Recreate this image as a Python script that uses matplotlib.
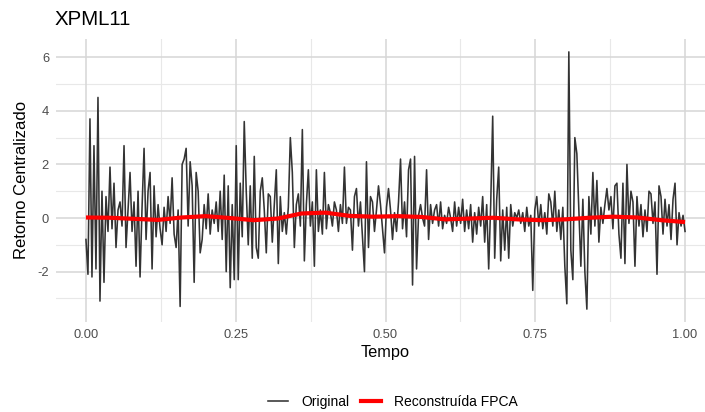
import numpy as np
import matplotlib
matplotlib.use("Agg")
import matplotlib.pyplot as plt
from matplotlib.lines import Line2D

plt.rcParams['font.family'] = ['Liberation Sans', 'DejaVu Sans']

# ---- data ----
title = "XPML11"
x_label = "Tempo"
y_label = "Retorno Centralizado"
series_names = ["Original", "Reconstruída FPCA"]

original = [
    -0.8, -2.1, 3.7, -2.2, 2.7, -1.9, 4.5, -3.1, 1.0, -2.4,
    0.8, -0.5, 1.9, -0.4, 1.3, -1.1, 0.3, 0.6, -0.3, 2.7,
    -1.1, 0.3, 1.7, -0.5, 0.6, -1.8, 1.0, -2.2, 0.4, 2.6,
    -0.8, 1.0, 1.7, -1.9, 1.2, -0.7, 0.5, -0.4, -1.0, 0.4,
    -0.5, 0.8, -0.2, 1.5, -0.6, -1.1, 0.3, -3.3, 2.0, 2.2,
    2.6, -0.3, 2.1, 1.2, -2.4, 1.7, 1.0, -1.3, -0.8, 0.5,
    -0.4, 0.9, -0.6, 0.3, -0.2, 0.6, -0.5, 1.0, -0.8, 1.6,
    -2.0, 1.2, -2.6, 0.5, -2.3, 2.7, -2.3, 1.3, -0.7, 3.6,
    1.0, -1.0, 1.2, -1.5, 2.3, -1.1, -1.5, 1.0, 1.5, 0.3,
    -1.3, 0.9, 0.8, -0.9, 0.5, 1.8, -1.7, 0.8, -0.5, 0.2,
    -0.6, 0.4, 3.0, 1.7, -1.1, 0.5, 0.9, -0.3, 3.3, -1.6,
    0.5, 1.8, -0.3, 0.6, -1.8, 1.8, -0.5, 0.3, -0.6, 1.7,
    -0.4, 0.5, 0.2, -0.3, 0.6, 0.3, -0.5, 0.5, -0.2, 1.9,
    -0.2, 0.4, 0.3, -1.2, 0.8, 1.1, -0.3, 0.6, -0.7, -2.0,
    2.1, -1.1, 0.8, 0.6, -0.5, 0.3, 1.2, 0.5, -0.4, -1.3,
    0.4, 1.1, 0.3, -0.8, 0.2, -0.5, 0.6, 2.2, -0.4, 0.6,
    -0.7, 1.8, 2.2, -2.5, 2.3, -1.9, 0.1, 0.5, 0.0, -0.3,
    1.8, -0.8, 0.5, -0.2, 0.3, 0.5, -0.3, 0.6, -0.4, 0.1,
    -0.2, 0.4, 0.0, -0.5, 0.6, -0.3, 0.4, -0.2, 0.7, -0.5,
    0.3, -0.4, 0.5, -0.9, 0.2, -0.6, 0.4, -0.3, 0.8, -0.9,
    0.5, -1.9, 0.5, 3.8, -1.5, 0.7, 1.9, -1.6, 0.3, -1.2,
    0.4, -1.5, 0.5, -0.3, 0.2, 0.0, 0.3, -0.2, 0.2, -0.5,
    0.4, -0.3, 0.1, -2.7, 0.3, 0.8, -0.3, 0.5, -0.4, 0.2,
    -0.6, 0.9, 0.6, -0.3, 1.0, -0.5, 0.3, -0.8, 0.4, -1.8,
    -3.2, 6.2, -1.2, -2.3, 3.0, 2.4, 0.3, -1.8, 0.7, -2.0,
    -3.4, 0.8, -0.6, 1.7, -0.3, 1.4, -0.9, 0.4, -0.2, 0.5,
    1.1, 0.3, 0.8, -0.4, 1.2, 1.3, -0.6, -1.5, 1.3, -1.7,
    2.0, -0.2, 1.0, 0.6, -1.8, 0.8, -0.3, 0.5, -0.7, 0.3,
    -0.5, 1.0, 0.9, -0.2, 0.6, -2.1, 1.2, 0.8, -0.6, 0.7,
    -0.3, 0.5, -0.8, 0.7, 1.3, -1.0, 0.2, -0.3, 0.1, -0.5,
]

fpca_time = [0.00, 0.04, 0.08, 0.12, 0.16, 0.20, 0.24, 0.28, 0.32, 0.36,
             0.40, 0.44, 0.48, 0.52, 0.56, 0.60, 0.64, 0.68, 0.72, 0.76,
             0.80, 0.84, 0.88, 0.92, 0.96, 1.00]
fpca = [0.02, 0.01, -0.03, -0.07, 0.02, 0.07, 0.00, -0.08, -0.02, 0.17,
        0.20, 0.08, 0.05, 0.07, 0.04, -0.05, -0.02, 0.01, -0.05, -0.08,
        -0.05, 0.01, 0.05, 0.02, -0.08, -0.15]

x_ticks = [0.00, 0.25, 0.50, 0.75, 1.00]
x_tick_labels = ["0.00", "0.25", "0.50", "0.75", "1.00"]
y_ticks = [-2, 0, 2, 4, 6]
y_tick_labels = ["-2", "0", "2", "4", "6"]

# ---- figure ----
W, H = 705, 412
fig = plt.figure(figsize=(W / 100, H / 100), dpi=100)
left_px, right_px, top_px, bot_px = 56, 715, 39, 322
ax = fig.add_axes([left_px / W, 1 - bot_px / H,
                   (right_px - left_px) / W, (bot_px - top_px) / H])

t = np.linspace(0, 1, len(original))
grey_col = "#333333"
red_col = "#FF0000"

# grid
for v in [-3, -1, 1, 3, 5]:
    ax.axhline(v, color="#E8E8E8", lw=0.8, zorder=0)
for v in [0.125, 0.375, 0.625, 0.875]:
    ax.axvline(v, color="#E8E8E8", lw=0.8, zorder=0)
for v in y_ticks:
    ax.axhline(v, color="#D6D6D6", lw=1.1, zorder=0)
for v in x_ticks:
    ax.axvline(v, color="#D6D6D6", lw=1.1, zorder=0)

ax.plot(t, original, color=grey_col, lw=1.15, zorder=2)
ax.plot(fpca_time, fpca, color=red_col, lw=3.0, zorder=3,
        solid_capstyle="butt", solid_joinstyle="round")

ymin, ymax = -3.4, 6.2
pad = 0.05 * (ymax - ymin)
ax.set_ylim(ymin - pad, ymax + pad)
ax.set_xlim(-0.05, 1.05)

ax.set_xticks(x_ticks)
ax.set_xticklabels(x_tick_labels)
ax.set_yticks(y_ticks)
ax.set_yticklabels(y_tick_labels)
ax.tick_params(length=0, labelsize=9.3, labelcolor="#4D4D4D", pad=5)
for s in ax.spines.values():
    s.set_visible(False)
ax.grid(False)

fig.text(55 / W, 1 - 19.5 / H, title, fontsize=14.7, ha="left", va="center", color="black")
fig.text(22 / W, 1 - 180 / H, y_label, fontsize=12, rotation=90,
         ha="center", va="center", color="black")
fig.text(385.5 / W, 1 - 352 / H, x_label, fontsize=11.8, ha="center", va="center",
         color="black")

handles = [Line2D([], [], color=grey_col, lw=1.15),
           Line2D([], [], color=red_col, lw=3.0)]
fig.legend(handles, series_names, loc="center", bbox_to_anchor=(393 / W, 1 - 402 / H),
           ncol=2, frameon=False, fontsize=10, handlelength=1.44, handletextpad=0.94,
           columnspacing=0.8, borderpad=0, borderaxespad=0)

fig.savefig("out.png", dpi=100)
